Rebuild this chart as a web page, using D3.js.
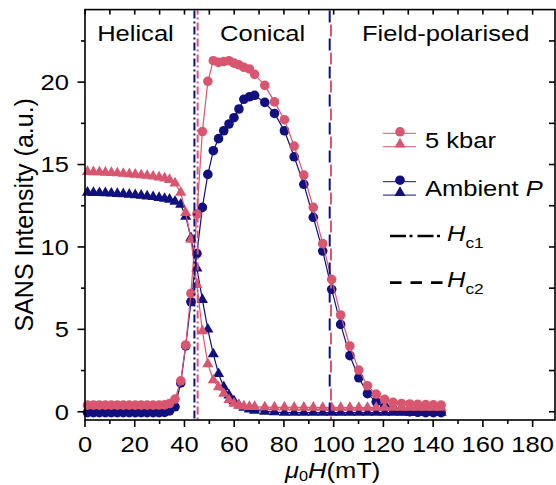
<!DOCTYPE html>
<html>
<head>
<meta charset="utf-8">
<script src="https://cdn.jsdelivr.net/npm/d3@7"></script>
<style>
  html, body { margin: 0; padding: 0; background: #fff; }
  svg { display: block; font-family: "Liberation Sans", Arial, sans-serif; }
</style>
</head>
<body>
<svg id="chart" width="556" height="485"></svg>
<script>
// Applied field (mT) at which each SANS point was recorded
const fields = [1.0, 3.4, 5.8, 8.2, 10.6, 13.0, 15.4, 17.8, 20.2, 22.6, 25.0, 27.4, 29.8, 32.0, 34.0,
  36.2, 38.5, 40.5, 42.6, 45.0, 47.2, 49.4, 51.6, 53.7, 55.8, 57.9, 59.9, 61.9, 63.9, 66.1, 68.2,
  72.3, 76.2, 80.2, 84.1, 88.0, 91.8, 95.6, 99.2, 102.8, 106.5, 110.1, 113.6, 117.1, 120.5, 123.9,
  127.3, 130.6, 133.8, 137.0, 140.1, 143.2];

// 5 kbar: conical-peak intensity (circles) and helical-peak intensity (triangles)
const kbarConical = [0.40, 0.40, 0.40, 0.40, 0.40, 0.40, 0.40, 0.40, 0.40, 0.40, 0.40, 0.40, 0.41, 0.42, 0.50,
  0.77, 1.88, 4.05, 7.18, 12.0, 17.0, 20.05, 21.3, 21.2, 21.25, 21.3, 21.15, 21.05, 20.9, 20.8, 20.47,
  19.8, 18.8, 17.72, 16.12, 14.36, 12.4, 10.2, 8.03, 5.87, 3.99, 2.53, 1.58, 1.07, 0.75, 0.57,
  0.50, 0.47, 0.45, 0.43, 0.42, 0.40];
const kbarHelical = [14.56, 14.55, 14.54, 14.52, 14.50, 14.48, 14.45, 14.42, 14.40, 14.36, 14.33, 14.28, 14.23, 14.17, 14.08,
  13.86, 13.30, 12.08, 10.45, 7.70, 4.90, 2.90, 1.92, 1.50, 1.10, 0.72, 0.50, 0.40, 0.33, 0.30, 0.30,
  0.28, 0.27, 0.27, 0.26, 0.26, 0.26, 0.25, 0.25, 0.25, 0.25, 0.25, 0.25, 0.25, 0.25, 0.25,
  0.25, 0.25, 0.25, 0.25, 0.25, 0.25];

// Ambient pressure: conical (circles) and helical (triangles)
const ambConical = [-0.05, -0.05, -0.05, -0.05, -0.05, -0.05, -0.05, -0.05, -0.05, -0.05, -0.05, -0.05, -0.05, -0.04, 0.05,
  0.30, 1.75, 4.00, 6.67, 9.60, 12.4, 14.4, 15.84, 16.57, 17.05, 17.46, 17.84, 18.37, 18.96, 19.11, 19.2,
  18.77, 18.1, 17.05, 15.47, 13.8, 11.8, 9.75, 7.43, 5.30, 3.40, 2.06, 1.10, 0.60, 0.30, 0.15,
  0.06, 0.00, -0.03, -0.05, -0.05, -0.05];
const ambHelical = [13.30, 13.29, 13.28, 13.27, 13.25, 13.23, 13.21, 13.18, 13.15, 13.12, 13.08, 13.04, 12.99, 12.93, 12.88,
  12.75, 12.58, 11.85, 10.55, 8.70, 6.80, 5.00, 3.50, 2.30, 1.50, 1.00, 0.65, 0.40, 0.25, 0.15, 0.08,
  0.02, -0.02, -0.05, -0.05, -0.05, -0.05, -0.05, -0.05, -0.05, -0.05, -0.05, -0.05, -0.05, -0.05, -0.05,
  -0.05, -0.05, -0.05, -0.05, -0.05, -0.05];

// Critical fields (mT)
const hc1 = { kbar: 45.3, amb: 44.0 };
const hc2 = { kbar: 98.9, amb: 98.4 };

const xTicks = [0, 20, 40, 60, 80, 100, 120, 140, 160, 180];
const yTicks = [0, 5, 10, 15, 20];
const phaseLabels = ["Helical", "Conical", "Field-polarised"];
const phaseStart = [4.9, 54.3, 111.4];

const PINK = "#d8566f";
const NAVY = "#10107e";
const SX = 1.16;   // horizontal glyph scaling used for the horizontal lettering

const svg = d3.select("#chart");
const x = d3.scaleLinear().domain([0, 189]).range([85, 555]);
const y = d3.scaleLinear().domain([-0.5, 24.4]).range([420, 9.6]);
const [x0, x1] = x.range();
const [y0, y1] = y.range();

function label(g, px, py, anchor, size) {
  return g.append("text")
    .attr("transform", `translate(${px},${py}) scale(${SX},1)`)
    .attr("text-anchor", anchor)
    .attr("font-size", size)
    .attr("fill", "#000");
}

// ---- data series ----
const plot = svg.append("g");
const lineGen = vals => d3.line().x((d, i) => x(fields[i])).y(d => y(d))(vals);
const tri = d3.symbol(d3.symbolTriangle, 54);

function drawSeries(conical, helical, color) {
  plot.append("path").attr("d", lineGen(helical)).attr("fill", "none").attr("stroke", color).attr("stroke-width", 1.2);
  plot.append("path").attr("d", lineGen(conical)).attr("fill", "none").attr("stroke", color).attr("stroke-width", 1.2);
  plot.append("g").selectAll("path").data(helical).join("path")
    .attr("d", tri).attr("fill", color)
    .attr("transform", (d, i) => `translate(${x(fields[i])},${y(d)})`);
  plot.append("g").selectAll("circle").data(conical).join("circle")
    .attr("cx", (d, i) => x(fields[i])).attr("cy", d => y(d)).attr("r", 4.8).attr("fill", color);
}
drawSeries(ambConical, ambHelical, NAVY);
drawSeries(kbarConical, kbarHelical, PINK);

// ---- critical field markers ----
function vline(h, color, dash, offset) {
  svg.append("line").attr("x1", x(h)).attr("x2", x(h)).attr("y1", y1 + 1).attr("y2", y0)
    .attr("stroke", color).attr("stroke-width", 2)
    .attr("stroke-dasharray", dash).attr("stroke-dashoffset", offset || 0);
}
vline(hc1.amb, NAVY, "8,3,2,3");
vline(hc1.kbar, PINK, "8,3,2,3", 4);
vline(hc2.kbar, PINK, "12,16", 14);
vline(hc2.amb, NAVY, "12,16", 0);

// ---- frame and ticks ----
const axes = svg.append("g").attr("stroke", "#000").attr("stroke-width", 1.6);
axes.append("rect").attr("x", x0).attr("y", y1).attr("width", x1 - x0).attr("height", y0 - y1).attr("fill", "none");
d3.range(0, 190, 10).forEach(v => {
  const major = v % 20 === 0;
  axes.append("line").attr("x1", x(v)).attr("x2", x(v)).attr("y1", y0).attr("y2", y0 + (major ? 7 : 4));
  axes.append("line").attr("x1", x(v)).attr("x2", x(v)).attr("y1", y1).attr("y2", y1 + 5);
});
d3.range(0, 24, 2.5).forEach(v => {
  const major = v % 5 === 0;
  axes.append("line").attr("y1", y(v)).attr("y2", y(v)).attr("x1", x0).attr("x2", x0 - (major ? 7.5 : 4));
  axes.append("line").attr("y1", y(v)).attr("y2", y(v)).attr("x1", x1).attr("x2", x1 - 6);
});

const txt = svg.append("g");
xTicks.forEach(v => label(txt, x(v), 452, "middle", 22).text(v));
yTicks.forEach(v => label(txt, 69, y(v) + 7.9, "end", 22).text(v));

// axis titles
txt.append("text")
  .attr("transform", `translate(33,${(y0 + y1) / 2}) rotate(-90)`)
  .attr("text-anchor", "middle").attr("font-size", 25).attr("fill", "#000")
  .text("SANS Intensity (a.u.)");
const xl = label(txt, 285, 478, "start", 22);
xl.append("tspan").attr("font-style", "italic").text("μ");
xl.append("tspan").attr("font-size", 14).attr("dy", 3).text("0");
xl.append("tspan").attr("font-style", "italic").attr("dy", -3).text("H");
xl.append("tspan").text("(mT)");

// phase region names
phaseLabels.forEach((t, i) => label(txt, x(phaseStart[i]), 40.7, "start", 22).text(t));

// ---- legend ----
const leg = svg.append("g");
function legSeries(cy, color, parts) {
  leg.append("line").attr("x1", 383).attr("x2", 416).attr("y1", cy).attr("y2", cy).attr("stroke", color).attr("stroke-width", 1);
  leg.append("line").attr("x1", 383).attr("x2", 416).attr("y1", cy + 13.4).attr("y2", cy + 13.4).attr("stroke", color).attr("stroke-width", 1);
  leg.append("circle").attr("cx", 400).attr("cy", cy - 1.5).attr("r", 4.8).attr("fill", color);
  leg.append("path").attr("d", tri).attr("fill", color).attr("transform", `translate(400,${cy + 11})`);
  const t = label(leg, 425, cy + 14.5, "start", 22);
  parts.forEach(p => t.append("tspan").attr("font-style", p[1] ? "italic" : null).text(p[0]));
}
legSeries(133.3, PINK, [["5 kbar", false]]);
legSeries(181.7, NAVY, [["Ambient ", false], ["P", true]]);

function legLine(cy, dash, sub) {
  leg.append("line").attr("x1", 390).attr("x2", 443).attr("y1", cy).attr("y2", cy)
    .attr("stroke", "#000").attr("stroke-width", 2.7).attr("stroke-dasharray", dash);
  const t = label(leg, 447, cy + 4.7, "start", 22);
  t.append("tspan").attr("font-style", "italic").text("H");
  t.append("tspan").attr("font-size", 15).attr("dy", 7).text(sub);
}
legLine(236, "16,3.5,3,5", "c1");
legLine(282.7, "11.5,9", "c2");
</script>
</body>
</html>
